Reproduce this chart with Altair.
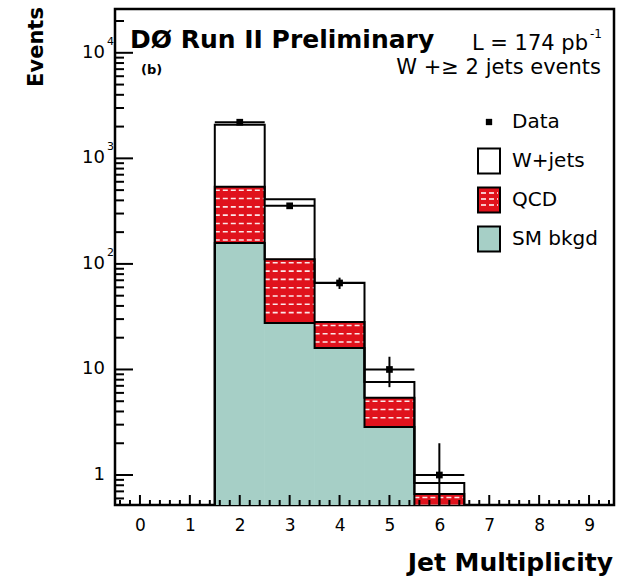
import math
import altair as alt
import pandas as pd

# ---- histogram contents (jet multiplicity bins) ----
bins = [2, 3, 4, 5, 6]
sm_bkgd = [158, 27.6, 16.0, 2.85, 0.30]
qcd = [380, 83, 12.2, 2.55, 0.36]
wjets = [1540, 300, 38, 2.2, 0.18]
data_events = [2200, 355, 66, 10, 1]
data_err = [47, 19, 8.1, 3.2, 1.0]

x_tick_labels = list(range(10))
y_major = [1, 10, 100, 1000, 10000]
y_label_base = ["1", "10", "10", "10", "10"]
y_label_exp = ["", "", "2", "3", "4"]

legend_labels = ["Data", "W+jets", "QCD", "SM bkgd"]

# ---- styling ----
FONT = "DejaVu Sans"
RED = "#e0121c"
TEAL = "#a6cfc6"
W, H = 499, 496
X_MIN, X_MAX = -0.5, 9.5
Y_MIN, Y_MAX = 0.52, 26000
PPD = H / (math.log10(Y_MAX) - math.log10(Y_MIN))  # pixels per decade

xs = alt.Scale(domain=[X_MIN, X_MAX], nice=False, zero=False)
ys = alt.Scale(type="log", domain=[Y_MIN, Y_MAX], nice=False)
x_axis = alt.Axis(values=x_tick_labels, format="d", labelFontSize=17, labelFont=FONT,
                  labelColor="black", labelPadding=12, ticks=False, domain=False,
                  grid=False, title=None, labelFlush=False)

# ---- stacked tops ----
sm_top = list(sm_bkgd)
qcd_top = [s + q for s, q in zip(sm_bkgd, qcd)]
w_top = [q + w for q, w in zip(qcd_top, wjets)]

fill_rows = []
for i, b in enumerate(bins):
    fill_rows.append(dict(x0=b - 0.5, x1=b + 0.5, lo=qcd_top[i], hi=w_top[i], comp="W+jets"))
    fill_rows.append(dict(x0=b - 0.5, x1=b + 0.5, lo=sm_top[i], hi=qcd_top[i], comp="QCD"))
    fill_rows.append(dict(x0=b - 0.5, x1=b + 0.5, lo=Y_MIN, hi=sm_top[i], comp="SM bkgd"))
fill_df = pd.DataFrame(fill_rows)

# step outlines of each cumulative histogram
outline_rows = []
for name, tops in [("total", w_top), ("qcd", qcd_top), ("sm", sm_top)]:
    k = 0
    outline_rows.append(dict(series=name, idx=k, x=bins[0] - 0.5, y=Y_MIN)); k += 1
    for b, v in zip(bins, tops):
        outline_rows.append(dict(series=name, idx=k, x=b - 0.5, y=v)); k += 1
        outline_rows.append(dict(series=name, idx=k, x=b + 0.5, y=v)); k += 1
    outline_rows.append(dict(series=name, idx=k, x=bins[-1] + 0.5, y=Y_MIN))
outline_df = pd.DataFrame(outline_rows)

# dashed white hatch rows inside the QCD band
hatch_rows = []
step = 8.3 / PPD
for i, b in enumerate(bins):
    lo_l = math.log10(max(sm_top[i], Y_MIN))
    hi_l = math.log10(qcd_top[i])
    y_l = hi_l - 3.5 / PPD
    while y_l > lo_l + 2.5 / PPD:
        hatch_rows.append(dict(x0=b - 0.5, x1=b + 0.5, y=10 ** y_l))
        y_l -= step
hatch_df = pd.DataFrame(hatch_rows)

data_df = pd.DataFrame(dict(
    bin=bins, n=data_events,
    x0=[b - 0.5 for b in bins], x1=[b + 0.5 for b in bins],
    lo=[max(n - e, Y_MIN * 0.5) for n, e in zip(data_events, data_err)],
    hi=[n + e for n, e in zip(data_events, data_err)],
))

fill_scale = alt.Scale(domain=["W+jets", "QCD", "SM bkgd"], range=["#ffffff", RED, TEAL])
fills = alt.Chart(fill_df).mark_rect(clip=True, strokeWidth=0.8).encode(
    x=alt.X("x0:Q", scale=xs, axis=x_axis), x2="x1:Q",
    y=alt.Y("lo:Q", scale=ys, axis=None), y2="hi:Q",
    fill=alt.Fill("comp:N", scale=fill_scale, legend=None),
    stroke=alt.Stroke("comp:N", scale=fill_scale, legend=None),
)
hatch = alt.Chart(hatch_df).mark_rule(clip=True, stroke="white", strokeWidth=1.6,
                                      strokeDash=[5, 3], opacity=0.9).encode(
    x=alt.X("x0:Q", scale=xs, axis=x_axis), x2="x1:Q",
    y=alt.Y("y:Q", scale=ys, axis=None),
)
outlines = alt.Chart(outline_df).mark_line(clip=True, stroke="black", strokeWidth=2).encode(
    x=alt.X("x:Q", scale=xs, axis=x_axis), y=alt.Y("y:Q", scale=ys, axis=None),
    detail="series:N", order="idx:Q",
)
data_h = alt.Chart(data_df).mark_rule(clip=True, stroke="black", strokeWidth=2).encode(
    x=alt.X("x0:Q", scale=xs, axis=x_axis), x2="x1:Q", y=alt.Y("n:Q", scale=ys, axis=None),
)
data_v = alt.Chart(data_df).mark_rule(clip=True, stroke="black", strokeWidth=2).encode(
    x=alt.X("bin:Q", scale=xs, axis=x_axis), y=alt.Y("lo:Q", scale=ys, axis=None), y2="hi:Q",
)
data_pts = alt.Chart(data_df).mark_square(size=45, color="black", opacity=1, clip=True).encode(
    x=alt.X("bin:Q", scale=xs, axis=x_axis), y=alt.Y("n:Q", scale=ys, axis=None),
)

# ---- inward ticks ----
y_minor = [m * 10 ** d for d in range(-1, 5) for m in range(2, 10)
           if Y_MIN <= m * 10 ** d <= Y_MAX]
x_minor = [round(X_MIN + 0.1 + 0.2 * k, 1) for k in range(50)]
x_minor = [v for v in x_minor if abs(v - round(v)) > 1e-6]

def yticks(vals, length):
    return alt.Chart(pd.DataFrame({"v": vals})).mark_rule(stroke="black", strokeWidth=2).encode(
        y=alt.Y("v:Q", scale=ys, axis=None), x=alt.value(0), x2=alt.value(length))

def xticks(vals, length):
    return alt.Chart(pd.DataFrame({"v": vals})).mark_rule(stroke="black", strokeWidth=2).encode(
        x=alt.X("v:Q", scale=xs, axis=x_axis), y=alt.value(H), y2=alt.value(H - length))

ticks = [yticks(y_major, 18), yticks(y_minor, 9), xticks(x_tick_labels, 10), xticks(x_minor, 5)]

# ---- y labels with exponents ----
ylab_df = pd.DataFrame(dict(v=y_major, base=y_label_base, exp=y_label_exp))
ylab_base = alt.Chart(ylab_df).mark_text(align="right", baseline="middle", fontSize=18,
                                         font=FONT, color="black").encode(
    y=alt.Y("v:Q", scale=ys, axis=None), x=alt.value(-10), text="base:N")
ylab_exp = alt.Chart(ylab_df).mark_text(align="left", baseline="middle", fontSize=11,
                                        font=FONT, color="black", dy=-11).encode(
    y=alt.Y("v:Q", scale=ys, axis=None), x=alt.value(-8), text="exp:N")

def label(text, x, y, size, weight="normal", align="left", angle=0, baseline="alphabetic"):
    return alt.Chart(pd.DataFrame({"t": [text]})).mark_text(
        align=align, baseline=baseline, fontSize=size, fontWeight=weight, font=FONT,
        color="black", angle=angle).encode(x=alt.value(x), y=alt.value(y), text="t:N")

texts = [
    label("DØ Run II Preliminary", 15, 39, 25, "bold"),
    label("L = 174 pb", 473, 41, 21, align="right"),
    label("-1", 475, 29, 12),
    label("W +≥ 2 jets events", 486, 65, 21, align="right"),
    label("(b)", 26, 65, 13, "bold"),
    label("Events", -78, 38, 21, "bold", align="center", angle=270, baseline="middle"),
    label("Jet Multiplicity", 498, 562, 25, "bold", align="right"),
]

# ---- legend ----
LEG_BOX_X0, LEG_BOX_X1, LEG_TEXT_X = 363, 385, 397
LEG_Y0, LEG_DY = 113, 39
legend_layers = []
one = pd.DataFrame({"k": [0]})
for i, name in enumerate(legend_labels):
    cy = LEG_Y0 + i * LEG_DY
    legend_layers.append(label(name, LEG_TEXT_X, cy, 20, baseline="middle"))
    if name == "Data":
        legend_layers.append(alt.Chart(one).mark_square(size=40, color="black", opacity=1).encode(
            x=alt.value((LEG_BOX_X0 + LEG_BOX_X1) / 2), y=alt.value(cy)))
        continue
    fill = {"W+jets": "#ffffff", "QCD": RED, "SM bkgd": TEAL}[name]
    legend_layers.append(alt.Chart(one).mark_rect(fill=fill, stroke="black", strokeWidth=2).encode(
        x=alt.value(LEG_BOX_X0), x2=alt.value(LEG_BOX_X1),
        y=alt.value(cy - 12.5), y2=alt.value(cy + 12.5)))
    if name == "QCD":
        rows = pd.DataFrame({"dy": [-7, -1, 5]})
        legend_layers.append(alt.Chart(rows).mark_rule(stroke="white", strokeWidth=1.6,
                                                       strokeDash=[5, 3]).encode(
            x=alt.value(LEG_BOX_X0 + 3), x2=alt.value(LEG_BOX_X1 - 2),
            y=alt.Y("yy:Q", scale=None, axis=None),
        ).transform_calculate(yy=f"{cy} + datum.dy"))

chart = alt.layer(
    fills, hatch, outlines, *ticks, data_h, data_v, data_pts,
    ylab_base, ylab_exp, *texts, *legend_layers,
).properties(
    width=W, height=H, background="white",
    padding={"left": 115, "top": 9, "right": 16, "bottom": 80},
    autosize=alt.AutoSizeParams(type="none"),
).configure_view(stroke="black", strokeWidth=2.5)

chart.save("out.html", embed_options={"renderer": "svg", "actions": False})
